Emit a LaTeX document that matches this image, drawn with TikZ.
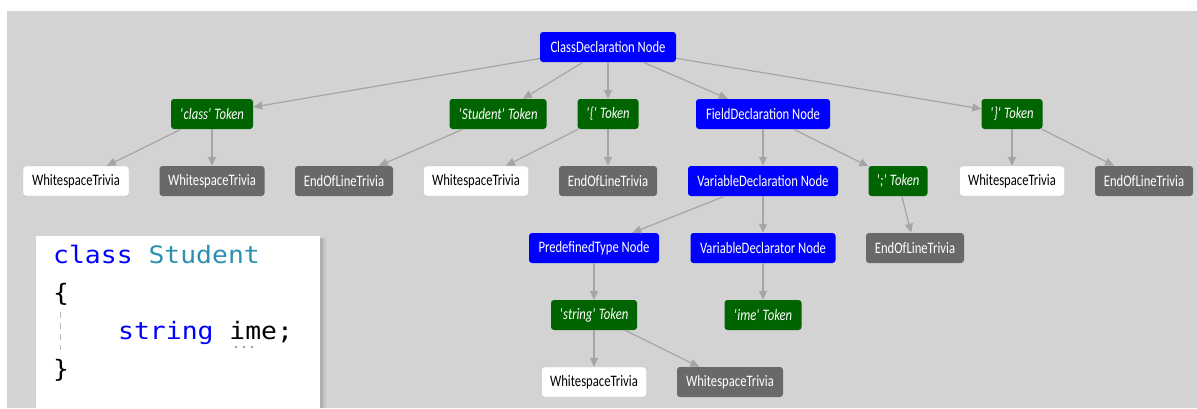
\documentclass[tikz,border=0pt]{standalone}
\usepackage{fontspec}
\usetikzlibrary{arrows.meta}
\newfontfamily\treefont[FakeStretch=0.79]{Carlito}
\newfontfamily\codefont[FakeStretch=1.1]{DejaVu Sans Mono}
\definecolor{bg}{RGB}{211,211,211}
\definecolor{nodeblue}{RGB}{0,0,255}
\definecolor{tokgreen}{RGB}{0,100,0}
\definecolor{trivgray}{RGB}{105,105,105}
\definecolor{edgegray}{RGB}{165,165,165}
\definecolor{borderw}{RGB}{190,190,190}
\definecolor{codeblue}{RGB}{0,0,255}
\definecolor{codeteal}{RGB}{43,145,175}
\definecolor{guidegray}{RGB}{185,185,185}
\newcommand{\q}{\textquotesingle}
\begin{document}
\begin{tikzpicture}[x=1pt,y=-1pt,
  box/.style={rounded corners=3pt, minimum height=30pt, inner sep=0pt,
    font=\treefont\fontsize{16}{18}\selectfont},
  synnode/.style={box, fill=nodeblue, text=white},
  toknode/.style={box, fill=tokgreen, text=white,
    font=\treefont\itshape\fontsize{16}{18}\selectfont},
  wtriv/.style={box, fill=white, draw=borderw, text=black},
  gtriv/.style={box, fill=trivgray, text=white},
  edge/.style={draw=edgegray, line width=1.2pt, -{Triangle[length=9pt,width=8pt]}},
  codeline/.style={anchor=base west, inner sep=0pt, font=\codefont\fontsize{24}{28}\selectfont}
]
\useasboundingbox (0,0) rectangle (1197,408);
\fill[white] (0,0) rectangle (1197,408);
\fill[bg] (7,11) rectangle (1197,408);

% code box
\fill[black,opacity=0.07] (38,238) rectangle (326,408);
\fill[black,opacity=0.10] (38,238) rectangle (323,408);
\fill[white] (36,236) rectangle (320,408);
\node[codeline] (c1) at (53,263) {\textcolor{codeblue}{class} \textcolor{codeteal}{Student}};
\node[codeline] (c2) at (53,301) {\{};
\node[codeline] (c3) at (118,339) {\textcolor{codeblue}{string} ime;};
\node[codeline] (c4) at (53,377) {\}};
\draw[guidegray, line width=1pt, dash pattern=on 6pt off 5pt] (60,312) -- (60,350);
\fill[gray] (236,347) circle (1.2pt) (244,347) circle (1.2pt) (252,347) circle (1.2pt);

% row 0
\node[synnode, minimum width=136pt] (cd) at (608,47) {ClassDeclaration Node};
% row 1
\node[toknode, minimum width=82pt] (classtok) at (212,114) {\q class\q{} Token};
\node[toknode, minimum width=97pt] (studtok) at (498,114) {\q Student\q{} Token};
\node[toknode, minimum width=61pt] (lbtok) at (608,114) {\q\{\q{} Token};
\node[synnode, minimum width=134pt] (fd) at (763,114) {FieldDeclaration Node};
\node[toknode, minimum width=61pt] (rbtok) at (1012,114) {\q\}\q{} Token};
% row 2
\node[wtriv, minimum width=106pt] (w1) at (76,181) {WhitespaceTrivia};
\node[gtriv, minimum width=105pt] (g1) at (212,181) {WhitespaceTrivia};
\node[gtriv, minimum width=98pt] (e1) at (344,181) {EndOfLineTrivia};
\node[wtriv, minimum width=105pt] (w2) at (476,181) {WhitespaceTrivia};
\node[gtriv, minimum width=98pt] (e2) at (608,181) {EndOfLineTrivia};
\node[synnode, minimum width=150pt] (vd) at (763,181) {VariableDeclaration Node};
\node[toknode, minimum width=59pt] (semi) at (898,181) {\q;\q{} Token};
\node[wtriv, minimum width=105pt] (w3) at (1012,181) {WhitespaceTrivia};
\node[gtriv, minimum width=98pt] (e3) at (1144,181) {EndOfLineTrivia};
% row 3
\node[synnode, minimum width=130pt] (pt) at (594,248) {PredefinedType Node};
\node[synnode, minimum width=145pt] (vdr) at (763,248) {VariableDeclarator Node};
\node[gtriv, minimum width=98pt] (e4) at (915,248) {EndOfLineTrivia};
% row 4
\node[toknode, minimum width=86pt] (strtok) at (594,315) {\q string\q{} Token};
\node[toknode, minimum width=77pt] (imetok) at (763,315) {\q ime\q{} Token};
% row 5
\node[wtriv, minimum width=105pt] (w4) at (594,382) {WhitespaceTrivia};
\node[gtriv, minimum width=106pt] (g2) at (730,382) {WhitespaceTrivia};

% edges
\draw[edge] (cd) -- (classtok);
\draw[edge] (cd) -- (studtok);
\draw[edge] (cd) -- (lbtok);
\draw[edge] (cd) -- (fd);
\draw[edge] (cd) -- (rbtok);
\draw[edge] (classtok) -- (w1);
\draw[edge] (classtok) -- (g1);
\draw[edge] (studtok) -- (e1);
\draw[edge] (lbtok) -- (w2);
\draw[edge] (lbtok) -- (e2);
\draw[edge] (fd) -- (vd);
\draw[edge] (fd) -- (semi);
\draw[edge] (rbtok) -- (w3);
\draw[edge] (rbtok) -- (e3);
\draw[edge] (vd) -- (pt);
\draw[edge] (vd) -- (vdr);
\draw[edge] (semi) -- (e4);
\draw[edge] (pt) -- (strtok);
\draw[edge] (vdr) -- (imetok);
\draw[edge] (strtok) -- (w4);
\draw[edge] (strtok) -- (g2);
\end{tikzpicture}
\end{document}
